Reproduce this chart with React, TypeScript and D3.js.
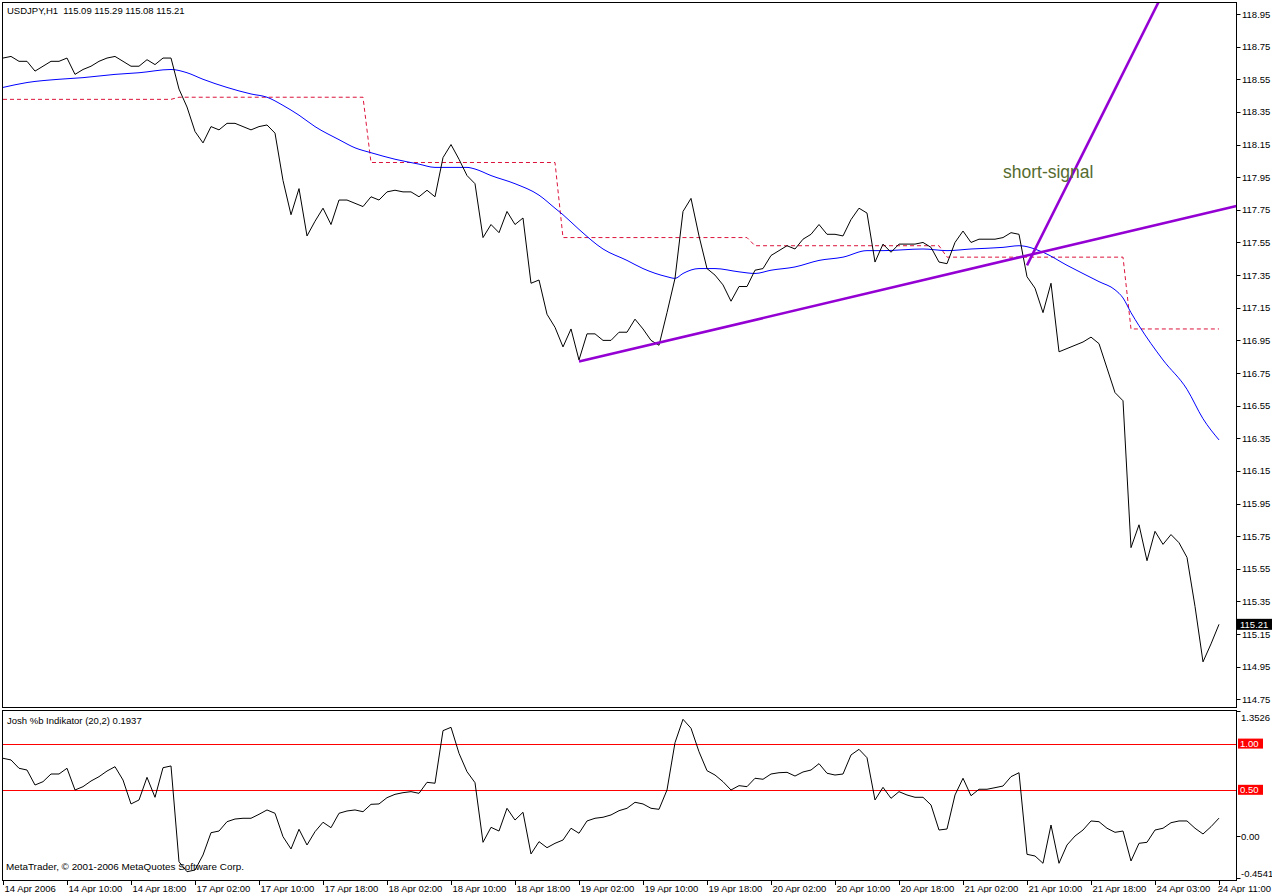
import React from 'react';
import * as d3 from 'd3';

// ---------- DATA ----------
const closes: number[] = [
  118.68, 118.69, 118.66, 118.66, 118.60, 118.63, 118.66, 118.66, 118.68, 118.58,
  118.61, 118.63, 118.66, 118.68, 118.69, 118.66, 118.63, 118.63, 118.67, 118.64,
  118.68, 118.68, 118.49, 118.38, 118.23, 118.16, 118.26, 118.24, 118.28, 118.28,
  118.26, 118.24, 118.26, 118.27, 118.22, 117.93, 117.72, 117.88, 117.59, 117.68,
  117.76, 117.66, 117.81, 117.81, 117.79, 117.77, 117.83, 117.81, 117.86, 117.87,
  117.86, 117.86, 117.83, 117.87, 117.83, 118.07, 118.15, 118.06, 117.96, 117.91,
  117.58, 117.66, 117.61, 117.74, 117.66, 117.70, 117.30, 117.32, 117.11, 117.03,
  116.91, 117.02, 116.83, 116.99, 116.99, 116.95, 116.95, 117.00, 117.00, 117.08,
  117.02, 116.95, 116.92, 117.12, 117.33, 117.74, 117.82, 117.59, 117.39, 117.35,
  117.29, 117.19, 117.28, 117.28, 117.38, 117.39, 117.47, 117.50, 117.53, 117.51,
  117.57, 117.60, 117.66, 117.60, 117.60, 117.59, 117.69, 117.76, 117.73, 117.43,
  117.54, 117.49, 117.54, 117.54, 117.54, 117.55, 117.52, 117.43, 117.42, 117.55,
  117.62, 117.55, 117.57, 117.57, 117.57, 117.58, 117.61, 117.60, 117.34, 117.27,
  117.12, 117.30, 116.88, 116.90, 116.92, 116.94, 116.97, 116.93, 116.78, 116.63,
  116.58, 115.68, 115.82, 115.60, 115.78, 115.70, 115.76, 115.71, 115.62, 115.32,
  114.98, 115.09, 115.21,
];

const maBars: number[] = [
  0, 3, 7, 10, 14, 17, 21, 23, 25, 28, 31, 33, 35, 37, 39, 42, 44, 46, 49, 52,
  54, 56, 58, 59, 61, 64, 67, 69, 70, 72, 75, 78, 80, 83, 84, 85, 87, 89, 92, 94,
  96, 99, 102, 105, 108, 110, 115, 118, 121, 125, 127, 130, 133, 137, 139, 140, 141, 142, 145, 148,
  150, 152,
];
const maValues: number[] = [
  118.50, 118.53, 118.55, 118.56, 118.58, 118.59, 118.61, 118.59, 118.55, 118.50,
  118.46, 118.44, 118.39, 118.33, 118.26, 118.18, 118.13, 118.10, 118.06, 118.03,
  118.01, 118.01, 118.01, 118.00, 117.96, 117.91, 117.84, 117.76, 117.72, 117.63,
  117.51, 117.44, 117.39, 117.34, 117.33, 117.36, 117.39, 117.39, 117.37, 117.36,
  117.38, 117.40, 117.44, 117.46, 117.50, 117.50, 117.51, 117.50, 117.51, 117.52,
  117.53, 117.49, 117.41, 117.31, 117.26, 117.21, 117.12, 117.04, 116.83, 116.65,
  116.47, 116.34,
];

const stepStarts: number[] = [0, 22, 46, 70, 94, 118, 141];
const stepLevels: number[] = [118.427, 118.440, 118.04, 117.58, 117.53, 117.46, 117.02];

const pctB: number[] = [
  0.841, 0.823, 0.733, 0.714, 0.552, 0.588, 0.671, 0.671, 0.733, 0.498,
  0.534, 0.595, 0.642, 0.703, 0.750, 0.606, 0.347, 0.390, 0.635, 0.419,
  0.739, 0.758, -0.278, -0.386, -0.368, -0.205, 0.036, 0.054, 0.155, 0.184,
  0.192, 0.192, 0.235, 0.282, 0.246, -0.007, -0.140, 0.073, -0.097, 0.047,
  0.149, 0.090, 0.246, 0.271, 0.282, 0.263, 0.343, 0.347, 0.415, 0.451,
  0.469, 0.480, 0.462, 0.581, 0.571, 1.140, 1.176, 0.895, 0.696, 0.577,
  -0.068, 0.094, 0.054, 0.300, 0.173, 0.257, -0.194, -0.061, -0.126, -0.079,
  -0.043, 0.084, 0.030, 0.163, 0.192, 0.203, 0.228, 0.274, 0.300, 0.365,
  0.347, 0.300, 0.289, 0.498, 1.010, 1.263, 1.166, 0.912, 0.707, 0.660,
  0.588, 0.498, 0.545, 0.534, 0.625, 0.614, 0.671, 0.685, 0.689, 0.649,
  0.693, 0.714, 0.783, 0.679, 0.660, 0.671, 0.877, 0.938, 0.847, 0.390,
  0.527, 0.408, 0.480, 0.444, 0.419, 0.419, 0.336, 0.065, 0.076, 0.444,
  0.625, 0.436, 0.506, 0.506, 0.523, 0.541, 0.642, 0.685, -0.198, -0.216,
  -0.295, 0.119, -0.295, -0.097, 0.000, 0.065, 0.163, 0.155, 0.084, 0.040,
  0.054, -0.270, -0.079, -0.068, 0.065, 0.084, 0.144, 0.163, 0.163, 0.084,
  0.022, 0.101, 0.1937,
];

const trendBars: number[] = [72, 128];
const trendPrices: number[] = [116.82, 117.47];
const signalBars: number[] = [128, 144];
const signalPrices: number[] = [117.41, 118.98];

const priceTicks: number[] = [
  118.95, 118.75, 118.55, 118.35, 118.15, 117.95, 117.75, 117.55, 117.35, 117.15, 116.95,
  116.75, 116.55, 116.35, 116.15, 115.95, 115.75, 115.55, 115.35, 115.15, 114.95, 114.75,
];
const timeLabels: string[] = [
  '14 Apr 2006', '14 Apr 10:00', '14 Apr 18:00', '17 Apr 02:00', '17 Apr 10:00',
  '17 Apr 18:00', '18 Apr 02:00', '18 Apr 10:00', '18 Apr 18:00', '19 Apr 02:00',
  '19 Apr 10:00', '19 Apr 18:00', '20 Apr 02:00', '20 Apr 10:00', '20 Apr 18:00',
  '21 Apr 02:00', '21 Apr 10:00', '21 Apr 18:00', '24 Apr 03:00', '24 Apr 11:00',
];
const timeLabelBars: number[] = timeLabels.map((_, k) => k * 8);
const indMax = 1.3526;
const indMin = -0.4541;
const levelLines: number[] = [1.0, 0.5];
const levelLabels: string[] = ['1.00', '0.50'];

const headerText = 'USDJPY,H1  115.09 115.29 115.08 115.21';
const indTitle = 'Josh %b Indikator (20,2) 0.1937';
const copyright = 'MetaTrader, \u00a9 2001-2006 MetaQuotes Software Corp.';
const lastPrice = 115.21;

// ---------- LAYOUT ----------
const W = 1272;
const H = 893;
const L = 2.5;
const R = 1236.5;
const mainTop = 2.5;
const mainBottom = 707.5;
const indTop = 710.5;
const indBottom = 880.5;
const FONT = "'Liberation Sans', Arial, sans-serif";
const FS = 9.5;

export default function App() {
  const x = d3.scaleLinear().domain([0, 152]).range([3, 1219]);
  const y = d3.scaleLinear().domain([114.75, 118.95]).range([699.4, 14]);
  const yi = d3.scaleLinear().domain([indMin, indMax]).range([878, 711]);

  const closeLine = d3.line<number>().x((_, i) => x(i)).y((d) => y(d))(closes) || '';
  const maLine =
    d3
      .line<number>()
      .x((d) => x(d))
      .y((_, i) => y(maValues[i]))
      .curve(d3.curveMonotoneX)(maBars) || '';

  const stepValues = closes.map((_, i) => {
    let lvl = stepLevels[0];
    stepStarts.forEach((s, k) => {
      if (i >= s) lvl = stepLevels[k];
    });
    return lvl;
  });
  const stepLine = d3.line<number>().x((_, i) => x(i)).y((d) => y(d))(stepValues) || '';

  const pctLine = d3.line<number>().x((_, i) => x(i)).y((d) => yi(d))(pctB) || '';

  // trend ray to right edge
  const tx1 = x(trendBars[0]);
  const ty1 = y(trendPrices[0]);
  const tx2 = x(trendBars[1]);
  const ty2 = y(trendPrices[1]);
  const tSlope = (ty2 - ty1) / (tx2 - tx1);
  const tEndX = R;
  const tEndY = ty1 + tSlope * (tEndX - tx1);

  // signal ray to top edge
  const sx1 = x(signalBars[0]);
  const sy1 = y(signalPrices[0]);
  const sx2 = x(signalBars[1]);
  const sy2 = y(signalPrices[1]);
  const sSlope = (sx2 - sx1) / (sy2 - sy1);
  const sEndY = mainTop - 2;
  const sEndX = sx1 + sSlope * (sEndY - sy1);

  const indLabelY = (v: number) => Math.min(873, Math.max(717, yi(v)));

  return (
    <svg
      width={W}
      height={H}
      style={{ position: 'absolute', left: 0, top: 0, display: 'block', background: '#fff' }}
      fontFamily={FONT}
    >
      <defs>
        <clipPath id="mainClip">
          <rect x={L} y={mainTop} width={R - L} height={mainBottom - mainTop} />
        </clipPath>
        <clipPath id="indClip">
          <rect x={L} y={indTop} width={R - L} height={indBottom - indTop} />
        </clipPath>
      </defs>
      <rect x={0} y={0} width={W} height={H} fill="#fff" />

      {/* main panel */}
      <g clipPath="url(#mainClip)">
        <path d={stepLine} fill="none" stroke="#dc143c" strokeWidth={1} strokeDasharray="4,3" />
        <path d={maLine} fill="none" stroke="#0000ff" strokeWidth={1} />
        <path d={closeLine} fill="none" stroke="#000" strokeWidth={1} />
        <line x1={tx1} y1={ty1} x2={tEndX} y2={tEndY} stroke="#9400d3" strokeWidth={2.6} />
        <line x1={sx1} y1={sy1} x2={sEndX} y2={sEndY} stroke="#9400d3" strokeWidth={2.6} />
        <text x={1003} y={178} fontSize={17.5} fill="#556b2f" fontFamily={FONT}>
          short-signal
        </text>
      </g>
      <rect x={L} y={mainTop} width={R - L} height={mainBottom - mainTop} fill="none" stroke="#000" strokeWidth={1} />
      <text x={7} y={14} fontSize={FS} fill="#000">
        {headerText.replace(/ /g, '\u00a0')}
      </text>

      {/* price axis */}
      {priceTicks.map((p) => (
        <g key={p}>
          <line x1={R} x2={R + 4} y1={Math.round(y(p)) + 0.5} y2={Math.round(y(p)) + 0.5} stroke="#000" />
          <text x={1242} y={y(p) + 3.5} fontSize={FS} fill="#000">
            {p.toFixed(2)}
          </text>
        </g>
      ))}
      <rect x={1237} y={y(lastPrice) - 5.5} width={35} height={11} fill="#000" />
      <text x={1240} y={y(lastPrice) + 3.5} fontSize={FS} fill="#fff">
        {lastPrice.toFixed(2)}
      </text>

      {/* indicator panel */}
      {levelLines.map((v) => (
        <line key={v} x1={L} x2={R} y1={Math.round(yi(v)) + 0.5} y2={Math.round(yi(v)) + 0.5} stroke="#ff0000" strokeWidth={1} />
      ))}
      <g clipPath="url(#indClip)">
        <path d={pctLine} fill="none" stroke="#000" strokeWidth={1} />
      </g>
      <rect x={L} y={indTop} width={R - L} height={indBottom - indTop} fill="none" stroke="#000" strokeWidth={1} />
      <text x={7} y={723.5} fontSize={FS} fill="#000">
        {indTitle}
      </text>
      <text x={6} y={869.5} fontSize={9.9} fill="#000">
        {copyright}
      </text>

      {[indMax, 0, indMin].map((v) => (
        <g key={v}>
          <line x1={R} x2={R + 4} y1={Math.round(yi(v)) + 0.5} y2={Math.round(yi(v)) + 0.5} stroke="#000" />
          <text x={1241} y={indLabelY(v) + 3.5} fontSize={FS} fill="#000">
            {v === 0 ? '0.00' : v.toFixed(4)}
          </text>
        </g>
      ))}
      {levelLines.map((v, k) => (
        <g key={'lbl' + v}>
          <rect x={1238} y={yi(v) - 5} width={25} height={10} fill="#ff0000" />
          <text x={1240} y={yi(v) + 3.5} fontSize={FS} fill="#fff">
            {levelLabels[k]}
          </text>
        </g>
      ))}

      {/* time axis */}
      {timeLabelBars.map((b, k) => {
        const isLast = k === timeLabels.length - 1;
        return (
          <g key={b}>
            <line x1={Math.round(x(b)) + 0.5} x2={Math.round(x(b)) + 0.5} y1={indBottom} y2={indBottom + 4.5} stroke="#000" />
            <text
              x={isLast ? W - 1 : x(b) + 1.5}
              y={891.5}
              fontSize={FS}
              fill="#000"
              textAnchor={isLast ? 'end' : 'start'}
            >
              {timeLabels[k]}
            </text>
          </g>
        );
      })}
    </svg>
  );
}
